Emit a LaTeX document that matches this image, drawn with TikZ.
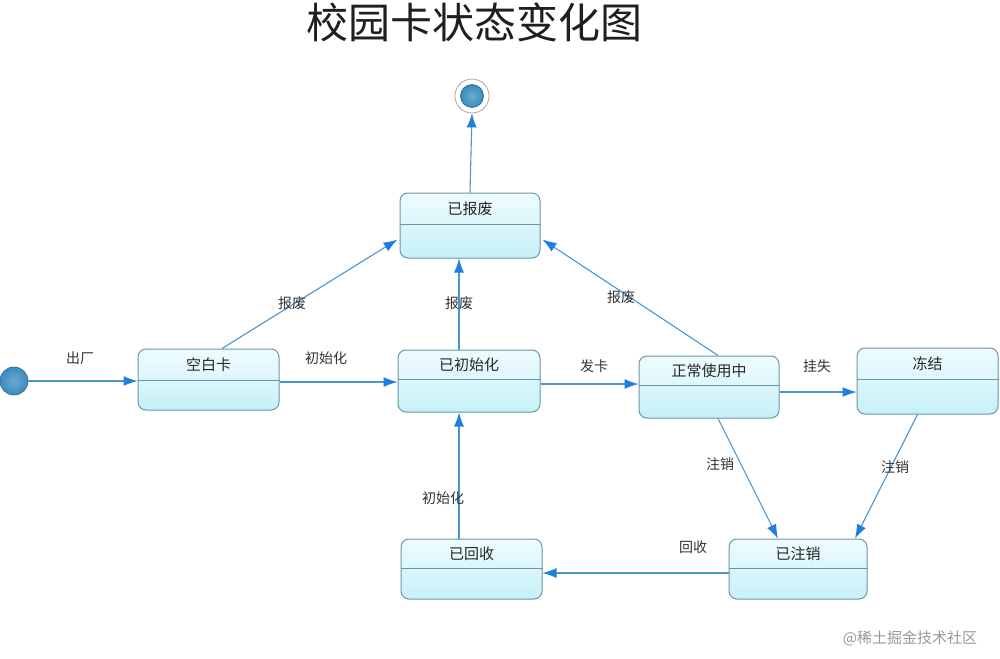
\documentclass[tikz,border=0pt]{standalone}
\usepackage{fontspec}
\setmainfont{Noto Sans CJK SC}
\usetikzlibrary{arrows.meta,calc}
\definecolor{boxline}{HTML}{6A98A6}
\definecolor{boxtop}{HTML}{F0FCFE}
\definecolor{boxbot}{HTML}{C6F0F8}
\definecolor{conn}{HTML}{4B95CF}
\definecolor{tipc}{HTML}{1E7FE0}
\definecolor{ball}{HTML}{3A8CBF}
\tikzset{
  statebox/.style={draw=boxline, line width=1pt, rounded corners=8pt,
    top color=boxtop, bottom color=boxbot, inner sep=0pt},
  divline/.style={draw=boxline, line width=1pt},
  stxt/.style={font=\fontsize{15}{15}\selectfont, text=black!85},
  lbl/.style={font=\fontsize{14}{14}\selectfont, text=black!80},
  trans/.style={draw=conn, line width=1.1pt, -{Latex[length=14pt,width=10pt,color=tipc]}},
}
\newcommand{\mkstate}[7]{%
  \node[statebox, minimum width=#4pt, minimum height=#5pt] (#1) at (#2,#3) {};
  \draw[divline] ([yshift=-#6pt]#1.north west) -- ([yshift=-#6pt]#1.north east);
  \node[stxt] (#1t) at ([yshift=-#6pt/2]#1.north) {#7};
}
\begin{document}
\begin{tikzpicture}[x=1pt,y=-1pt]
\useasboundingbox (0,0) rectangle (1000,658);
\fill[white] (0,0) rectangle (1000,658);
\node[font=\fontsize{42}{42}\selectfont, text=black!88] (title) at (474,22) {校园卡状态变化图};

\mkstate{bf}{470}{225.5}{140}{65}{32}{已报废}
\mkstate{kb}{208.5}{379.5}{141}{61}{32}{空白卡}
\mkstate{cs}{469}{381}{142}{62}{30}{已初始化}
\mkstate{zc}{709}{387}{140}{62}{30}{正常使用中}
\mkstate{dj}{927.5}{381}{141}{66}{32}{冻结}
\mkstate{hs}{471.5}{569}{141}{60}{30}{已回收}
\mkstate{zx}{798}{569}{138}{60}{30}{已注销}

\node[circle, minimum size=28pt, inner sep=0pt, draw=ball!70!black, line width=0.6pt,
  inner color=ball!75!white, outer color=ball] (start) at (14,381) {};
\node[circle, minimum size=34pt, inner sep=0pt, draw=gray!70, line width=0.8pt] (end) at (472,96) {};
\node[circle, minimum size=23pt, inner sep=0pt, draw=ball!70!black, line width=0.6pt,
  inner color=ball!75!white, outer color=ball] (endin) at (472,96) {};

\draw[trans] (start) -- (start -| kb.west);
\draw[trans] ([yshift=-2.5pt]kb.east) -- ([yshift=-2.5pt]kb.east -| cs.west);
\draw[trans] ([yshift=-3pt]cs.east) -- ([yshift=-3pt]cs.east -| zc.west);
\draw[trans] ([yshift=-5pt]zc.east) -- ([yshift=-5pt]zc.east -| dj.west);
\draw[trans] ([xshift=13.5pt]kb.north) -- ([yshift=-14pt,xshift=-2pt]bf.west);
\draw[trans] ([xshift=-10pt]cs.north) -- ([xshift=-10pt]cs.north |- bf.south);
\draw[trans] ([xshift=9pt]zc.north) -- ([yshift=-14pt,xshift=2pt]bf.east);
\draw[trans] (bf.north) -- (end.south);
\draw[trans] ([xshift=9pt]zc.south) -- ([xshift=-20pt]zx.north);
\draw[trans] ([xshift=-10pt]dj.south) -- ([xshift=57pt]zx.north);
\draw[trans] ([yshift=-4pt]zx.west) -- ([yshift=-4pt]zx.west -| hs.east);
\draw[trans] ([xshift=-12.5pt]hs.north) -- ([xshift=-12.5pt]hs.north |- cs.south);

\node[lbl] (l1) at (80,358) {出厂};
\node[lbl] (l2) at (326,358) {初始化};
\node[lbl] (l3) at (594,366) {发卡};
\node[lbl] (l4) at (817,366) {挂失};
\node[lbl] (l5) at (292,303) {报废};
\node[lbl] (l6) at (459,303) {报废};
\node[lbl] (l7) at (621,297) {报废};
\node[lbl] (l8) at (720,464) {注销};
\node[lbl] (l9) at (895,467) {注销};
\node[lbl] (l10) at (693,547) {回收};
\node[lbl] (l11) at (443,498) {初始化};

\node[font=\fontsize{15}{15}\selectfont, text=black!40] (wm) at (910,638) {@稀土掘金技术社区};
\end{tikzpicture}
\end{document}
